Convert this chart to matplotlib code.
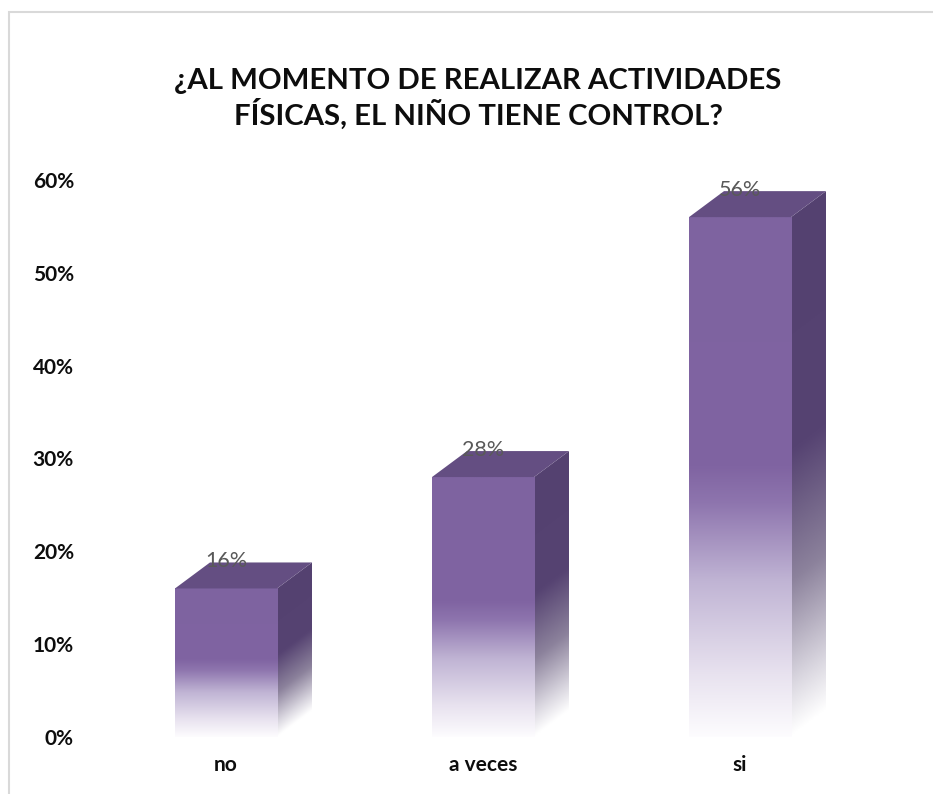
import matplotlib
matplotlib.use('Agg')
import matplotlib.pyplot as plt
import numpy as np
from matplotlib.patches import Polygon, Rectangle
from matplotlib.colors import LinearSegmentedColormap

# ---- data ----
categories = ['no', 'a veces', 'si']
values = [0.16, 0.28, 0.56]
yticks = [0.0, 0.1, 0.2, 0.3, 0.4, 0.5, 0.6]
ytick_labels = ['0%', '10%', '20%', '30%', '40%', '50%', '60%']
data_labels = ['16%', '28%', '56%']
title = '¿AL MOMENTO DE REALIZAR ACTIVIDADES\nFÍSICAS, EL NIÑO TIENE CONTROL?'

plt.rcParams['font.family'] = ['Lato', 'DejaVu Sans']

W, H = 933, 794
fig = plt.figure(figsize=(W / 100, H / 100), dpi=100)
fig.patch.set_facecolor('white')

# chart border
fig.patches.append(Rectangle((8.5 / W, -0.1), 2, 1 - 12.5 / H + 0.1,
                             transform=fig.transFigure, fill=False,
                             ec='#d9d9d9', lw=1.5, zorder=0))

ax = fig.add_axes([97.5 / W, 57 / H, 771 / W, 557 / H])
ax.set_xlim(-0.5, 2.5)
ax.set_ylim(0, 0.6)
ax.patch.set_alpha(0)
for s in ax.spines.values():
    s.set_visible(False)
ax.set_yticks(yticks)
ax.set_yticklabels(ytick_labels, fontsize=15, fontweight='bold', color='#0d0d0d')
ax.set_xticks(range(len(categories)))
ax.set_xticklabels(categories, fontsize=15, fontweight='bold', color='#0d0d0d')
ax.tick_params(axis='y', length=0, pad=17)
ax.tick_params(axis='x', length=0, pad=13)

fig.text(478 / W, 1 - 99 / H, title, ha='center', va='center', fontsize=21.2,
         fontweight='bold', color='#0d0d0d', linespacing=1.2)


def c(r, g, b):
    return (r / 255, g / 255, b / 255)


front_cmap = LinearSegmentedColormap.from_list('front', [
    (0.0, c(253, 252, 254)),
    (0.12, c(232, 226, 239)),
    (0.30, c(192, 180, 212)),
    (0.45, c(142, 117, 174)),
    (0.52, c(128, 100, 162)),
    (1.0, c(126, 99, 160)),
])
side_cmap = LinearSegmentedColormap.from_list('side', [
    (0.0, c(255, 255, 255)),
    (0.10, c(218, 215, 224)),
    (0.30, c(140, 130, 156)),
    (0.55, c(86, 67, 114)),
    (1.0, c(84, 65, 112)),
])
top_color = c(100, 78, 130)

fig.canvas.draw()
DX, DY = 35, 26
bw = 0.397
T = ax.transData
inv = T.inverted()


def off(pts):
    d = T.transform(pts) + np.array([DX, DY])
    return inv.transform(d)


for i, v in enumerate(values):
    x0, x1 = i - bw / 2, i + bw / 2
    # front face gradient
    grad = np.linspace(0, 1, 256).reshape(-1, 1)
    ax.imshow(grad, extent=[x0, x1, 0, v], origin='lower', cmap=front_cmap,
              aspect='auto', zorder=3, interpolation='bilinear')
    # top face
    tp = np.array([[x0, v], [x1, v]])
    top = np.vstack([tp, off(tp)[::-1]])
    ax.add_patch(Polygon(top, closed=True, fc=top_color, ec='none', zorder=3, clip_on=False))
    # side face
    sp = np.array([[x1, 0], [x1, v]])
    so = off(sp)
    side = np.array([sp[0], so[0], so[1], sp[1]])
    poly = Polygon(side, closed=True, fc='none', ec='none', zorder=2, clip_on=False)
    ax.add_patch(poly)
    # gradient image for side in display space
    pd = T.transform(side)
    xmin, xmax = pd[:, 0].min(), pd[:, 0].max()
    ymin, ymax = pd[:, 1].min(), pd[:, 1].max()
    nx, ny = 60, 400
    gx = np.linspace(xmin, xmax, nx)
    gy = np.linspace(ymin, ymax, ny)
    GX, GY = np.meshgrid(gx, gy)
    front_h = GY - (GX - pd[0, 0]) * DY / DX - pd[0, 1]
    hv = pd[3, 1] - pd[0, 1]
    tt = np.clip(front_h / hv, 0, 1)
    img = side_cmap(tt)
    e0 = inv.transform([xmin, ymin])
    e1 = inv.transform([xmax, ymax])
    im = ax.imshow(img, extent=[e0[0], e1[0], e0[1], e1[1]], origin='lower',
                   aspect='auto', zorder=2, interpolation='bilinear')
    im.set_clip_path(poly)
    im.set_clip_on(True)
    # data label
    ax.annotate(data_labels[i], xy=(i, v), xytext=(0, 19.5), textcoords='offset points',
                ha='center', va='center', fontsize=15.5, color='#595959', zorder=5,
                annotation_clip=False)

ax.set_xlim(-0.5, 2.5)
ax.set_ylim(0, 0.6)
fig.savefig('out.png', dpi=100, facecolor='white')
